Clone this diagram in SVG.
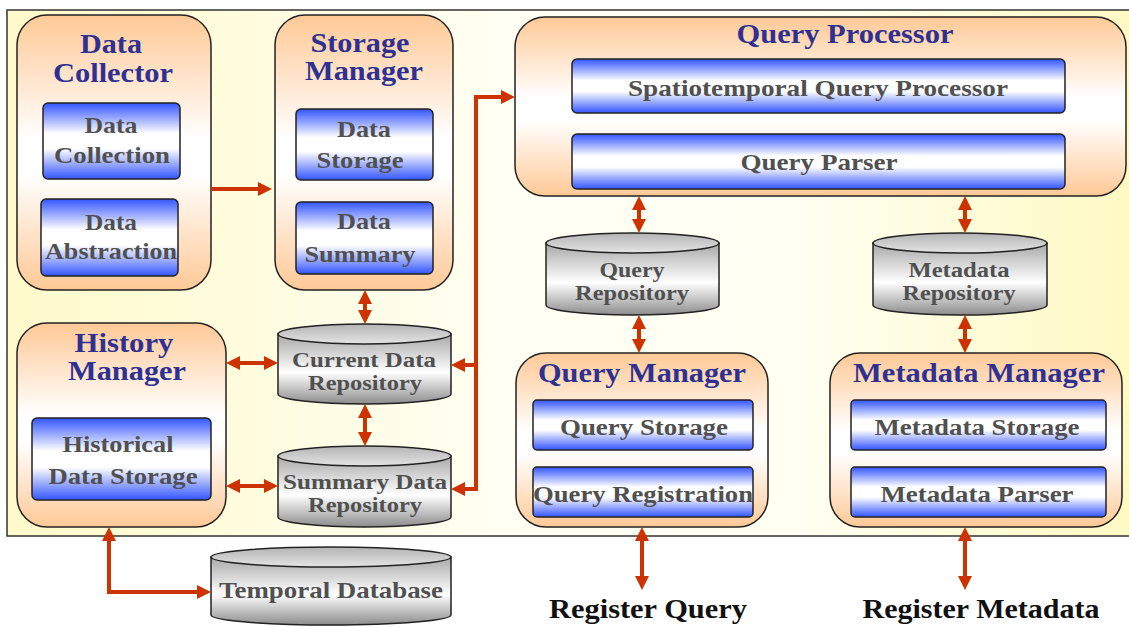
<svg xmlns="http://www.w3.org/2000/svg" width="1129" height="627" viewBox="0 0 1129 627">
  <defs>
    <linearGradient id="panelFill" x1="0" y1="0" x2="1" y2="0">
      <stop offset="0" stop-color="#FFFACB"/>
      <stop offset="0.45" stop-color="#FFFFF4"/>
      <stop offset="0.7" stop-color="#FFFFF2"/>
      <stop offset="1" stop-color="#FFF9C2"/>
    </linearGradient>
    <linearGradient id="peach" x1="0" y1="0" x2="0" y2="1">
      <stop offset="0" stop-color="#FFC996"/>
      <stop offset="0.45" stop-color="#FFFFFF"/>
      <stop offset="0.58" stop-color="#FFFFFF"/>
      <stop offset="1" stop-color="#FFC996"/>
    </linearGradient>
    <linearGradient id="blue" x1="0" y1="0" x2="0" y2="1">
      <stop offset="0" stop-color="#3355FF"/>
      <stop offset="0.4" stop-color="#FFFFFF"/>
      <stop offset="0.6" stop-color="#FFFFFF"/>
      <stop offset="1" stop-color="#3355FF"/>
    </linearGradient>
    <linearGradient id="cylBody" x1="0" y1="0" x2="0" y2="1">
      <stop offset="0" stop-color="#A8A8A8"/>
      <stop offset="0.55" stop-color="#FFFFFF"/>
      <stop offset="1" stop-color="#8C8C8C"/>
    </linearGradient>
    <linearGradient id="cylTop" x1="0" y1="0" x2="0" y2="1">
      <stop offset="0" stop-color="#B4B4B4"/>
      <stop offset="1" stop-color="#E4E4E4"/>
    </linearGradient>
    <marker id="head" viewBox="0 0 14 14" refX="10" refY="7" markerWidth="14" markerHeight="14" markerUnits="userSpaceOnUse" orient="auto-start-reverse">
      <path d="M0,0 L14,7 L0,14 z" fill="#CC3300"/>
    </marker>
    <style>
      .mgr { fill: url(#peach); stroke: #222; stroke-width: 1.5; }
      .box { fill: url(#blue); stroke: #222; stroke-width: 1.5; }
      .body { fill: url(#cylBody); stroke: #222; stroke-width: 1.5; }
      .lid { fill: url(#cylTop); stroke: #222; stroke-width: 1.5; }
      .title { font-family: "Liberation Serif", "Times New Roman", serif; font-weight: bold; font-size: 28px; fill: #2E3192; }
      .inner { font-family: "Liberation Serif", "Times New Roman", serif; font-weight: bold; font-size: 24px; fill: #505050; }
      .cyl { font-family: "Liberation Serif", "Times New Roman", serif; font-weight: bold; font-size: 20px; fill: #505050; }
      .ext { font-family: "Liberation Serif", "Times New Roman", serif; font-weight: bold; font-size: 28px; fill: #111111; }
      .link { fill: none; stroke: #CC3300; stroke-width: 4; }
    </style>
  </defs>

  <!-- system boundary -->
  <rect id="system" x="7" y="10" width="1130" height="526" fill="url(#panelFill)" stroke="#333" stroke-width="1.5"/>

  <!-- Data Collector -->
  <g id="data-collector">
    <rect class="mgr" x="17" y="15" width="194" height="275" rx="30"/>
    <text class="title" x="111" y="53" text-anchor="middle" textLength="62" lengthAdjust="spacingAndGlyphs">Data</text>
    <text class="title" x="113" y="82" text-anchor="middle" textLength="120" lengthAdjust="spacingAndGlyphs">Collector</text>
    <rect class="box" x="43" y="103" width="137" height="76" rx="5"/>
    <text class="inner" x="111" y="133" text-anchor="middle" textLength="53" lengthAdjust="spacingAndGlyphs">Data</text>
    <text class="inner" x="112" y="163" text-anchor="middle" textLength="116" lengthAdjust="spacingAndGlyphs">Collection</text>
    <rect class="box" x="41" y="199" width="137" height="77" rx="5"/>
    <text class="inner" x="111" y="230" text-anchor="middle" textLength="52" lengthAdjust="spacingAndGlyphs">Data</text>
    <text class="inner" x="111" y="259" text-anchor="middle" textLength="132" lengthAdjust="spacingAndGlyphs">Abstraction</text>
  </g>

  <!-- Storage Manager -->
  <g id="storage-manager">
    <rect class="mgr" x="275" y="15" width="178" height="275" rx="30"/>
    <text class="title" x="360" y="52" text-anchor="middle" textLength="99" lengthAdjust="spacingAndGlyphs">Storage</text>
    <text class="title" x="364" y="80" text-anchor="middle" textLength="118" lengthAdjust="spacingAndGlyphs">Manager</text>
    <rect class="box" x="296" y="109" width="137" height="71" rx="5"/>
    <text class="inner" x="364" y="137" text-anchor="middle" textLength="54" lengthAdjust="spacingAndGlyphs">Data</text>
    <text class="inner" x="360" y="168" text-anchor="middle" textLength="87" lengthAdjust="spacingAndGlyphs">Storage</text>
    <rect class="box" x="296" y="202" width="137" height="72" rx="5"/>
    <text class="inner" x="364" y="229" text-anchor="middle" textLength="54" lengthAdjust="spacingAndGlyphs">Data</text>
    <text class="inner" x="360" y="262" text-anchor="middle" textLength="111" lengthAdjust="spacingAndGlyphs">Summary</text>
  </g>

  <!-- History Manager -->
  <g id="history-manager">
    <rect class="mgr" x="17" y="323" width="209" height="204" rx="30"/>
    <text class="title" x="124" y="352" text-anchor="middle" textLength="99" lengthAdjust="spacingAndGlyphs">History</text>
    <text class="title" x="127" y="380" text-anchor="middle" textLength="118" lengthAdjust="spacingAndGlyphs">Manager</text>
    <rect class="box" x="32" y="418" width="179" height="82" rx="5"/>
    <text class="inner" x="118" y="452" text-anchor="middle" textLength="111" lengthAdjust="spacingAndGlyphs">Historical</text>
    <text class="inner" x="123" y="484" text-anchor="middle" textLength="149" lengthAdjust="spacingAndGlyphs">Data Storage</text>
  </g>

  <!-- Current Data Repository -->
  <g id="current-data-repository">
    <path class="body" d="M278,334 V394 A86.5,10 0 0 0 451,394 V334 Z"/>
    <ellipse class="lid" cx="364.5" cy="334" rx="86.5" ry="10"/>
    <text class="cyl" x="364" y="367" text-anchor="middle" textLength="144" lengthAdjust="spacingAndGlyphs">Current Data</text>
    <text class="cyl" x="365" y="390" text-anchor="middle" textLength="114" lengthAdjust="spacingAndGlyphs">Repository</text>
  </g>

  <!-- Summary Data Repository -->
  <g id="summary-data-repository">
    <path class="body" d="M278,456 V517 A86.5,10 0 0 0 451,517 V456 Z"/>
    <ellipse class="lid" cx="364.5" cy="456" rx="86.5" ry="10"/>
    <text class="cyl" x="365" y="489" text-anchor="middle" textLength="164" lengthAdjust="spacingAndGlyphs">Summary Data</text>
    <text class="cyl" x="365" y="512" text-anchor="middle" textLength="114" lengthAdjust="spacingAndGlyphs">Repository</text>
  </g>

  <!-- Temporal Database -->
  <g id="temporal-database">
    <path class="body" d="M211,557 V615 A120,10 0 0 0 451,615 V557 Z"/>
    <ellipse class="lid" cx="331" cy="557" rx="120" ry="10"/>
    <text class="inner" x="331" y="598" text-anchor="middle" textLength="224" lengthAdjust="spacingAndGlyphs">Temporal Database</text>
  </g>

  <!-- Query Processor -->
  <g id="query-processor">
    <rect class="mgr" x="515" y="17" width="611" height="179" rx="30"/>
    <text class="title" x="845" y="43" text-anchor="middle" textLength="217" lengthAdjust="spacingAndGlyphs">Query Processor</text>
    <rect class="box" x="572" y="59" width="493" height="54" rx="5"/>
    <text class="inner" x="818" y="96" text-anchor="middle" textLength="380" lengthAdjust="spacingAndGlyphs">Spatiotemporal Query Processor</text>
    <rect class="box" x="572" y="134" width="493" height="55" rx="5"/>
    <text class="inner" x="819" y="170" text-anchor="middle" textLength="157" lengthAdjust="spacingAndGlyphs">Query Parser</text>
  </g>

  <!-- Query Repository -->
  <g id="query-repository">
    <path class="body" d="M546,243 V305 A86.5,10 0 0 0 719,305 V243 Z"/>
    <ellipse class="lid" cx="632.5" cy="243" rx="86.5" ry="10"/>
    <text class="cyl" x="632" y="277" text-anchor="middle" textLength="65" lengthAdjust="spacingAndGlyphs">Query</text>
    <text class="cyl" x="632" y="300" text-anchor="middle" textLength="114" lengthAdjust="spacingAndGlyphs">Repository</text>
  </g>

  <!-- Metadata Repository -->
  <g id="metadata-repository">
    <path class="body" d="M873,243 V305 A87,10 0 0 0 1047,305 V243 Z"/>
    <ellipse class="lid" cx="960" cy="243" rx="87" ry="10"/>
    <text class="cyl" x="959" y="277" text-anchor="middle" textLength="101" lengthAdjust="spacingAndGlyphs">Metadata</text>
    <text class="cyl" x="959" y="300" text-anchor="middle" textLength="113" lengthAdjust="spacingAndGlyphs">Repository</text>
  </g>

  <!-- Query Manager -->
  <g id="query-manager">
    <rect class="mgr" x="516" y="353" width="252" height="174" rx="30"/>
    <text class="title" x="642" y="382" text-anchor="middle" textLength="208" lengthAdjust="spacingAndGlyphs">Query Manager</text>
    <rect class="box" x="533" y="400" width="220" height="50" rx="4"/>
    <text class="inner" x="644" y="435" text-anchor="middle" textLength="168" lengthAdjust="spacingAndGlyphs">Query Storage</text>
    <rect class="box" x="533" y="467" width="220" height="50" rx="4"/>
    <text class="inner" x="643" y="502" text-anchor="middle" textLength="220" lengthAdjust="spacingAndGlyphs">Query Registration</text>
  </g>

  <!-- Metadata Manager -->
  <g id="metadata-manager">
    <rect class="mgr" x="830" y="353" width="292" height="174" rx="30"/>
    <text class="title" x="979" y="382" text-anchor="middle" textLength="252" lengthAdjust="spacingAndGlyphs">Metadata Manager</text>
    <rect class="box" x="851" y="400" width="255" height="50" rx="4"/>
    <text class="inner" x="977" y="435" text-anchor="middle" textLength="205" lengthAdjust="spacingAndGlyphs">Metadata Storage</text>
    <rect class="box" x="851" y="467" width="255" height="50" rx="4"/>
    <text class="inner" x="977" y="502" text-anchor="middle" textLength="193" lengthAdjust="spacingAndGlyphs">Metadata Parser</text>
  </g>

  <!-- external inputs -->
  <g id="register-query">
    <text class="ext" x="648" y="618" text-anchor="middle" textLength="198" lengthAdjust="spacingAndGlyphs">Register Query</text>
  </g>
  <g id="register-metadata">
    <text class="ext" x="981" y="618" text-anchor="middle" textLength="237" lengthAdjust="spacingAndGlyphs">Register Metadata</text>
  </g>

  <!-- connectors -->
  <g id="connectors">
    <path class="link" d="M211,189 H268" marker-end="url(#head)"/>
    <path class="link" d="M365,294 V320" marker-start="url(#head)" marker-end="url(#head)"/>
    <path class="link" d="M365,408 V442" marker-start="url(#head)" marker-end="url(#head)"/>
    <path class="link" d="M230,363 H274" marker-start="url(#head)" marker-end="url(#head)"/>
    <path class="link" d="M230,486 H274" marker-start="url(#head)" marker-end="url(#head)"/>
    <path class="link" d="M109,531 V592 H207" marker-start="url(#head)" marker-end="url(#head)"/>
    <path class="link" d="M455,489 H476 V97 H511" marker-start="url(#head)" marker-end="url(#head)"/>
    <path class="link" d="M476,365 H455" marker-end="url(#head)"/>
    <path class="link" d="M639,200 V229" marker-start="url(#head)" marker-end="url(#head)"/>
    <path class="link" d="M965,200 V229" marker-start="url(#head)" marker-end="url(#head)"/>
    <path class="link" d="M639,319 V349" marker-start="url(#head)" marker-end="url(#head)"/>
    <path class="link" d="M965,319 V349" marker-start="url(#head)" marker-end="url(#head)"/>
    <path class="link" d="M642,531 V586" marker-start="url(#head)" marker-end="url(#head)"/>
    <path class="link" d="M965,531 V586" marker-start="url(#head)" marker-end="url(#head)"/>
  </g>
</svg>
